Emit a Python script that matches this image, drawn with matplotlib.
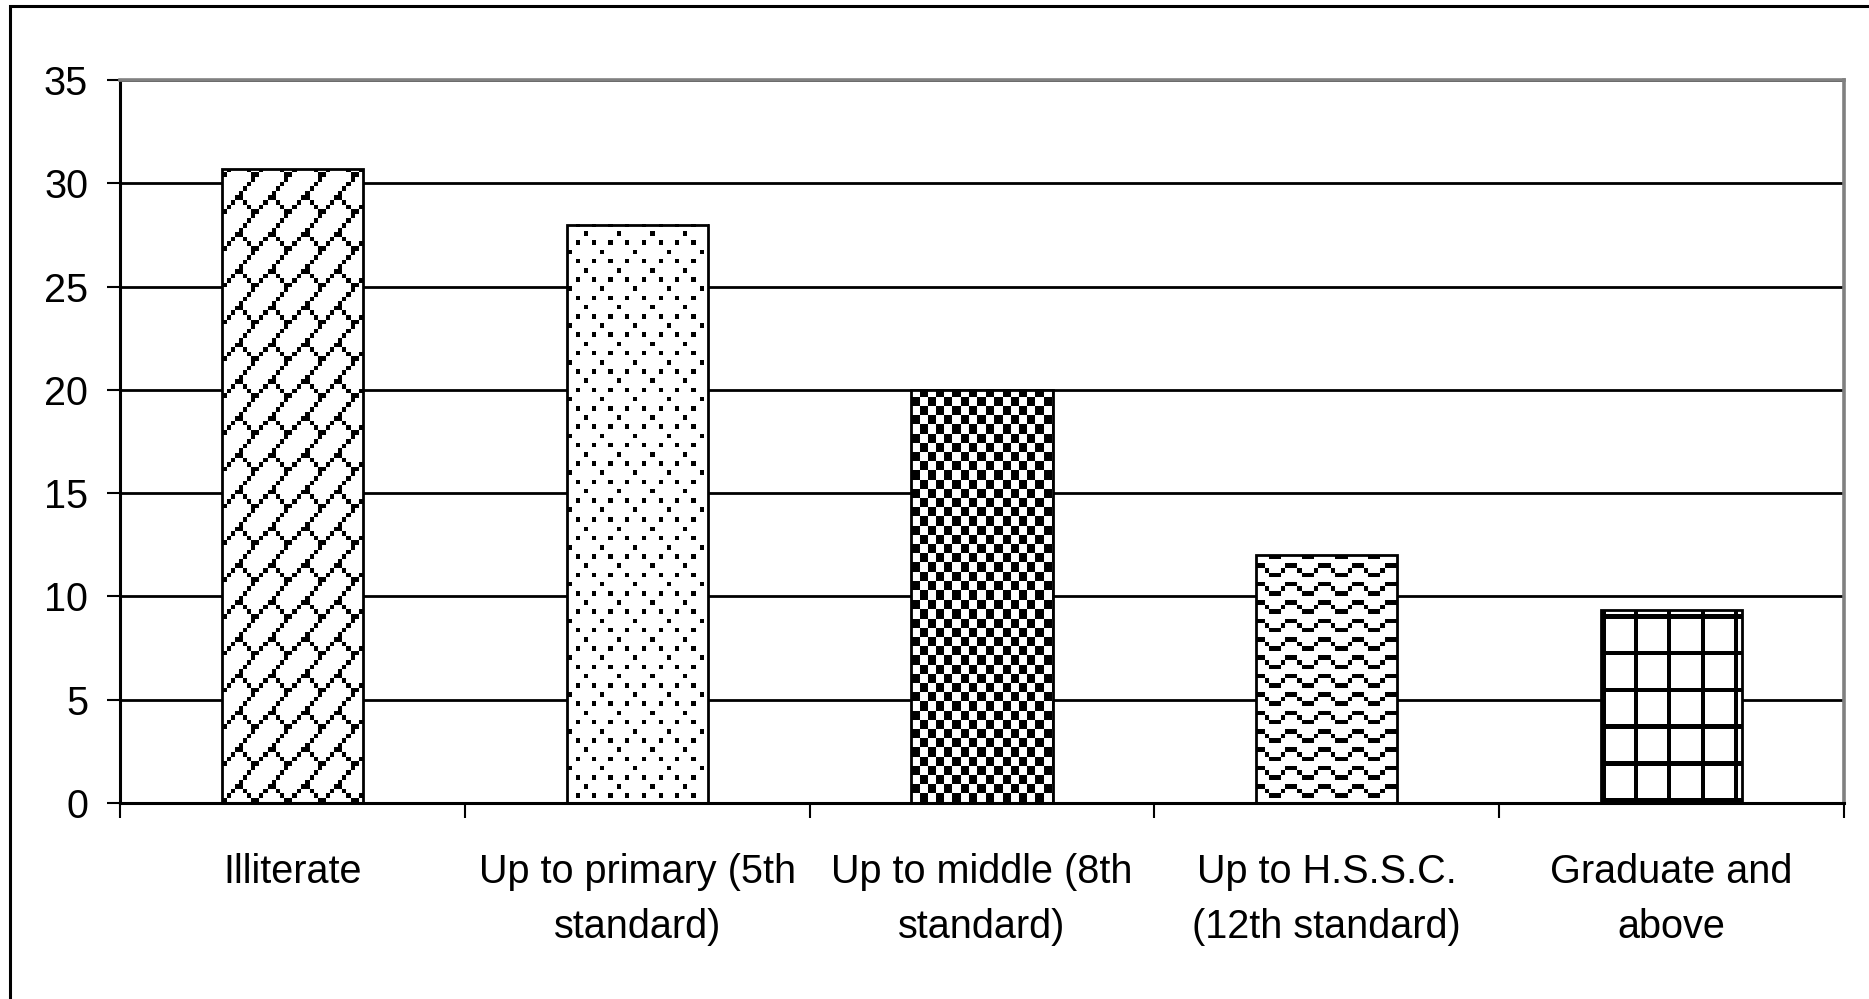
import numpy as np
import matplotlib
matplotlib.use("Agg")
import matplotlib.pyplot as plt
from matplotlib.patches import Rectangle

# ---------------- data ----------------
categories = ["Illiterate", "Up to primary (5th\nstandard)", "Up to middle (8th\nstandard)",
              "Up to H.S.S.C.\n(12th standard)", "Graduate and\nabove"]
values = [30.67, 28.0, 20.0, 12.0, 9.33]
yticks = [0, 5, 10, 15, 20, 25, 30, 35]

# ---------------- fill patterns (8x8 bit tiles, style only) ----------------
brick = ["00000001", "00000010", "00000100", "00001000",
         "00011000", "00100100", "01000010", "10000001"]
dots = ["10000000", "00000000", "00100010", "00000000",
        "00001000", "00000000", "00100010", "00000000"]
checker = ["11001100", "11001100", "00110011", "00110011"] * 2
wave = ["11000001", "00100010", "00011100", "00000000"] * 2
grid = ["10000000"] * 7 + ["11111111"]
patterns = [brick, dots, checker, wave, grid]

W, H, DPI = 1869, 999, 100
plt.rcParams["font.family"] = ["Liberation Sans", "DejaVu Sans"]
FS = 28.5

fig = plt.figure(figsize=(W / DPI, H / DPI), dpi=DPI)
fig.patch.set_facecolor("white")
ax = fig.add_axes([120 / W, (H - 803) / H, (1844 - 120) / W, (803 - 80) / H])

x = np.arange(len(categories))
bw = 0.41
ax.set_xlim(-0.5, len(categories) - 0.5)
ax.set_ylim(yticks[0], yticks[-1])

# white bar faces
bars = ax.bar(x, values, width=bw, color="white", edgecolor="none", zorder=2)

# pattern textures rendered at device resolution
fig.canvas.draw()
sx, sy = 4.1, 4.6
for b, pat in zip(bars, patterns):
    tile = np.array([[c == "1" for c in row] for row in pat])
    x0, y0 = b.get_x(), b.get_y()
    x1, y1 = x0 + b.get_width(), y0 + b.get_height()
    (px0, py0), (px1, py1) = ax.transData.transform([(x0, y0), (x1, y1)])
    w = max(int(round(px1 - px0)), 1)
    h = max(int(round(py1 - py0)), 1)
    cols = np.arange(w)
    rows_from_bottom = np.arange(h)[::-1]
    tx = (cols // sx).astype(int) % 8
    ty = 7 - (rows_from_bottom // sy).astype(int) % 8
    mask = tile[ty[:, None], tx[None, :]]
    img = np.zeros((h, w, 4))
    img[..., 3] = mask.astype(float)
    ax.imshow(img, extent=(x0, x1, y0, y1), aspect="auto",
              interpolation="nearest", origin="upper", zorder=2.5)

# bar outlines
ax.bar(x, values, width=bw, fill=False, edgecolor="black", linewidth=2.0, zorder=3)

ax.set_xlim(-0.5, len(categories) - 0.5)
ax.set_ylim(yticks[0], yticks[-1])

# grid
ax.set_axisbelow(True)
ax.yaxis.grid(True, color="black", linewidth=2.0, zorder=0.5)

# spines
for s in ["left", "bottom"]:
    ax.spines[s].set_color("black")
    ax.spines[s].set_linewidth(2.2)
for s in ["top", "right"]:
    ax.spines[s].set_color("#808080")
    ax.spines[s].set_linewidth(2.6)
ax.spines["top"].set_zorder(4)

# ticks
ax.set_yticks(yticks)
ax.set_yticklabels([str(t) for t in yticks], fontsize=FS)
ax.tick_params(axis="y", direction="out", length=9.4, width=1.5, pad=13.5, colors="black")

ax.set_xticks(x)
ax.set_xticklabels(categories, fontsize=FS, linespacing=1.55)
ax.set_xticks(np.arange(len(categories) + 1) - 0.5, minor=True)
ax.tick_params(axis="x", which="major", length=0, pad=36)
ax.tick_params(axis="x", which="minor", direction="out", length=10.8, width=1.5, colors="black")
for lab in ax.get_xticklabels():
    lab.set_multialignment("center")

# outer chart frame
fig.add_artist(Rectangle((10 / W, -0.5), 2.0, 0.5 + 1 - 6 / H, transform=fig.transFigure,
                         fill=False, edgecolor="black", linewidth=2.2, clip_on=False))

fig.savefig("out.png", dpi=DPI, facecolor="white")
